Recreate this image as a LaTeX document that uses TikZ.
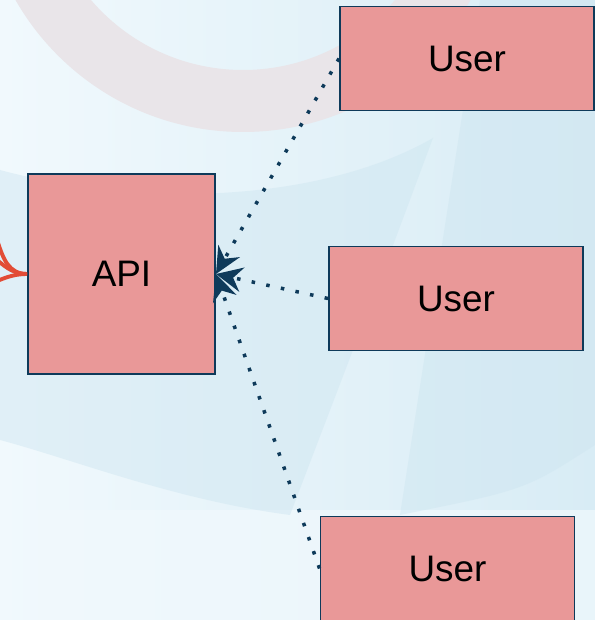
\documentclass[tikz,border=0pt]{standalone}
\usepackage{fontspec}
\setmainfont{Liberation Sans}
\usepackage{xcolor}
\usetikzlibrary{arrows.meta}
\definecolor{boxfill}{HTML}{E99898}
\definecolor{boxline}{HTML}{0E3A5A}
\definecolor{feedred}{HTML}{E24C36}
\definecolor{bgpale}{HTML}{F1F9FD}
\definecolor{bgblue}{HTML}{D8ECF5}
\definecolor{ringgrey}{HTML}{E9E5E9}
\definecolor{bladeblue}{HTML}{CDE5F0}
\tikzstyle{box}=[draw=boxline,fill=boxfill,line width=1.1pt,inner sep=0pt,font=\fontsize{21}{25}\selectfont]
\tikzstyle{service}+=[box,minimum width=3.74cm,minimum height=4cm]
\tikzstyle{client}+=[box,minimum width=5.08cm,minimum height=2.08cm]
\tikzstyle{call}=[draw=boxline,line width=2pt,dash pattern=on 2pt off 6.5pt,-{Stealth[length=15pt,width=14pt,inset=5pt]}]
\tikzstyle{feed}=[draw=feedred,line width=2.2pt]

\begin{document}
\begin{tikzpicture}
    \useasboundingbox (0,0) rectangle (11.9,12.4);
    \clip (0,0) rectangle (11.9,12.4);
    % backdrop
    \shade[left color=bgpale,right color=bgblue] (0,0) rectangle (11.9,12.4);
    \fill[bgpale,opacity=.7] (0,0) rectangle (11.9,2.2);
    \fill[ringgrey,even odd rule] (4.86,15) circle (5.24) (4.86,15) circle (4.0);
    \fill[bladeblue,opacity=.45] (0,9.0) .. controls (3,8.2) and (6.5,8.4) .. (8.66,9.64)
      -- (7.9,7.6) -- (5.8,2.1) .. controls (3.5,2.4) and (1.5,3.2) .. (0,3.6) -- cycle;
    \fill[bladeblue,opacity=.45] (9.6,12.4) -- (11.9,12.4) -- (11.9,3.5) .. controls (10.5,2.6) .. (8.0,2.1) -- cycle;
    % nodes
    \node[service] (api) at (2.43,6.92) {API};
    \node[client] (user1) at (9.34,11.23) {User};
    \node[client] (user2) at (9.12,6.43) {User};
    \node[client] (user3) at (8.95,1.03) {User};
    % incoming feed on the left
    \coordinate (feed1) at (-0.6,8.4);
    \coordinate (feed2) at (-0.6,7.5);
    \coordinate (feed3) at (-0.6,6.6);
    \draw[feed] (feed1) to[out=-20,in=180] (api.west);
    \draw[feed] (feed2) to[out=-10,in=180] (api.west);
    \draw[feed] (feed3) to[out=10,in=180] (api.west);
    % calls from the users
    \draw[call] (user1.west) -- (api.east);
    \draw[call] (user2.west) -- (api.east);
    \draw[call] (user3.west) -- (api.east);
\end{tikzpicture}
\end{document}
